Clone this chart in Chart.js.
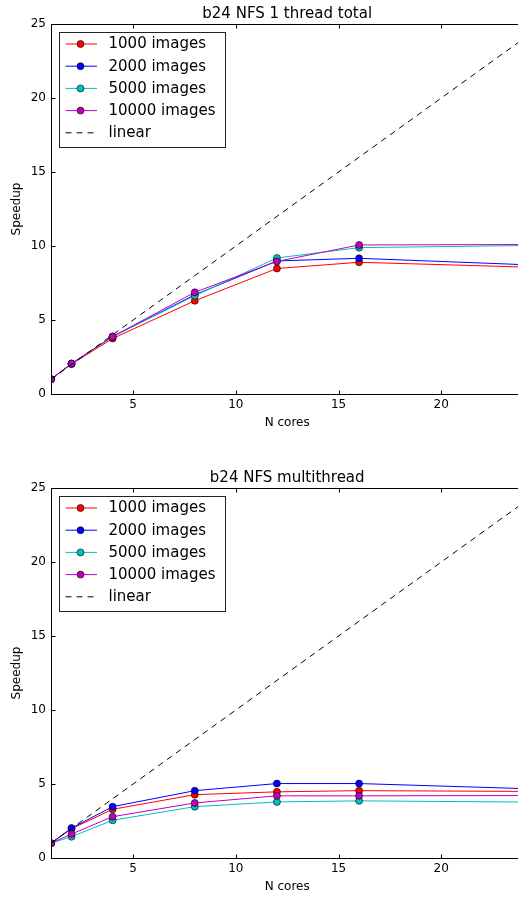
<!DOCTYPE html>
<html>
<head>
<meta charset="utf-8">
<script src="https://cdn.jsdelivr.net/npm/chart.js@4.4.0/dist/chart.umd.min.js"></script>
<style>
    html, body { margin: 0; padding: 0; background: #fff; overflow: hidden; width: 518px; height: 897px; }
    .panel { position: absolute; left: 0; width: 528px; height: 440px; }
    #top { top: 0; }
    #bottom { top: 464px; }
</style>
</head>
<body>
<div class="panel" id="top"><canvas id="totalChart"></canvas></div>
<div class="panel" id="bottom"><canvas id="multiChart"></canvas></div>
<script>
// data
const cores = [1, 2, 4, 8, 12, 16, 24];
const linear = [1, 2, 4, 8, 12, 16, 24];
const xTicks = [5, 10, 15, 20];
const yTicks = [0, 5, 10, 15, 20, 25];

const seriesLabels = ['1000 images', '2000 images', '5000 images', '10000 images'];
const seriesColors = ['#ff0000', '#0000ff', '#00bfbf', '#bf00bf'];

// b24 NFS 1 thread total
const total1000 = [1.0, 2.02, 3.75, 6.30, 8.48, 8.90, 8.58];
const total2000 = [1.0, 2.05, 3.88, 6.70, 8.99, 9.17, 8.74];
const total5000 = [1.0, 2.05, 3.87, 6.64, 9.19, 9.89, 10.03];
const total10000 = [1.0, 2.06, 3.88, 6.87, 8.96, 10.07, 10.10];

// b24 NFS multithread
const multi1000 = [1.0, 1.98, 3.29, 4.28, 4.47, 4.55, 4.50];
const multi2000 = [1.0, 2.02, 3.47, 4.55, 5.03, 5.03, 4.69];
const multi5000 = [1.0, 1.44, 2.55, 3.47, 3.79, 3.86, 3.78];
const multi10000 = [1.0, 1.62, 2.79, 3.72, 4.20, 4.20, 4.22];

const FONT = "'DejaVu Sans', sans-serif";
Chart.defaults.font.family = FONT;
Chart.defaults.color = '#000';

// axes frame with inward ticks (matplotlib classic look)
const framePlugin = {
    id: 'frame',
    afterDatasetsDraw(chart) {
        const { ctx, chartArea: a, scales: { x, y } } = chart;
        const L = Math.round(a.left) + 0.5, R = Math.round(a.right) - 0.5;
        const T = Math.round(a.top) + 0.5, B = Math.round(a.bottom) + 0.5;
        ctx.save();
        ctx.strokeStyle = '#000';
        ctx.lineWidth = 1;
        ctx.strokeRect(L, T, R - L, B - T);
        ctx.beginPath();
        xTicks.forEach(v => {
            const px = Math.round(x.getPixelForValue(v)) + 0.5;
            ctx.moveTo(px, T); ctx.lineTo(px, T + 4);
            ctx.moveTo(px, B); ctx.lineTo(px, B - 4);
        });
        yTicks.forEach(v => {
            const py = Math.round(y.getPixelForValue(v)) + 0.5;
            ctx.moveTo(L, py); ctx.lineTo(L + 4, py);
            ctx.moveTo(R, py); ctx.lineTo(R - 4, py);
        });
        ctx.stroke();
        ctx.restore();
    }
};

// boxed legend in the upper left corner
const boxLegendPlugin = {
    id: 'boxLegend',
    afterDraw(chart) {
        const { ctx, chartArea: a } = chart;
        const bx = Math.round(a.left + 7.5), by = Math.round(a.top + 8);
        const bw = 166, bh = 115;
        ctx.save();
        ctx.fillStyle = '#fff';
        ctx.fillRect(bx, by, bw, bh);
        ctx.strokeStyle = '#222';
        ctx.lineWidth = 1;
        ctx.strokeRect(bx + 0.5, by + 0.5, bw, bh);
        chart.data.datasets.forEach((ds, i) => {
            const cy = by + 12 + i * 22.2;
            ctx.beginPath();
            ctx.strokeStyle = ds.borderColor;
            ctx.lineWidth = 1;
            ctx.setLineDash(ds.borderDash || []);
            ctx.moveTo(bx + 6.5, cy);
            ctx.lineTo(bx + 38, cy);
            ctx.stroke();
            ctx.setLineDash([]);
            if (ds.pointRadius > 0) {
                ctx.beginPath();
                ctx.arc(bx + 21.5, cy, 3.5, 0, Math.PI * 2);
                ctx.fillStyle = ds.pointBackgroundColor;
                ctx.fill();
                ctx.lineWidth = 0.6;
                ctx.strokeStyle = '#000';
                ctx.stroke();
            }
            ctx.fillStyle = '#000';
            ctx.font = '15px ' + FONT;
            ctx.textBaseline = 'middle';
            ctx.textAlign = 'left';
            ctx.fillText(ds.label, bx + 49.5, cy + 0.5);
        });
        ctx.restore();
    }
};

function makeChart(canvasId, title, series) {
    const datasets = series.map((vals, i) => ({
        label: seriesLabels[i],
        data: cores.map((c, j) => ({ x: c, y: vals[j] })),
        borderColor: seriesColors[i],
        backgroundColor: seriesColors[i],
        borderWidth: 1,
        pointRadius: 3.5,
        pointBackgroundColor: seriesColors[i],
        pointBorderColor: '#000',
        pointBorderWidth: 0.6,
        order: series.length + 1 - i
    }));
    datasets.push({
        label: 'linear',
        data: cores.map((c, j) => ({ x: c, y: linear[j] })),
        borderColor: '#000',
        borderWidth: 1,
        borderDash: [6, 5],
        pointRadius: 0,
        order: 0
    });

    return new Chart(document.getElementById(canvasId), {
        type: 'line',
        data: { datasets: datasets },
        plugins: [framePlugin, boxLegendPlugin],
        options: {
            responsive: true,
            maintainAspectRatio: false,
            animation: false,
            layout: { padding: { left: 0, right: 0.5, top: 0, bottom: 0 } },
            plugins: {
                legend: { display: false },
                tooltip: { enabled: false },
                title: {
                    display: true,
                    text: title,
                    fullSize: false,
                    color: '#000',
                    font: { family: FONT, size: 15, weight: 'normal' },
                    padding: { top: 5, bottom: 1 }
                }
            },
            scales: {
                x: {
                    type: 'linear',
                    min: 1,
                    max: 24,
                    grid: { display: false, drawTicks: false },
                    border: { display: false },
                    afterBuildTicks: s => { s.ticks = xTicks.map(v => ({ value: v })); },
                    afterFit: s => { s.height = 46; },
                    ticks: { color: '#000', font: { size: 12 }, padding: 4, maxRotation: 0, autoSkip: false },
                    title: { display: true, text: 'N cores', color: '#000', font: { size: 12 }, padding: { top: 0, bottom: 10 } }
                },
                y: {
                    min: 0,
                    max: 25,
                    grid: { display: false, drawTicks: false },
                    border: { display: false },
                    afterBuildTicks: s => { s.ticks = yTicks.map(v => ({ value: v })); },
                    afterFit: s => { s.width = 51; },
                    ticks: { color: '#000', font: { size: 12 }, padding: 5 },
                    title: { display: true, text: 'Speedup', color: '#000', font: { size: 12 }, padding: { top: 10, bottom: 0 } }
                }
            }
        }
    });
}

makeChart('totalChart', 'b24 NFS 1 thread total', [total1000, total2000, total5000, total10000]);
makeChart('multiChart', 'b24 NFS multithread', [multi1000, multi2000, multi5000, multi10000]);
</script>
</body>
</html>
